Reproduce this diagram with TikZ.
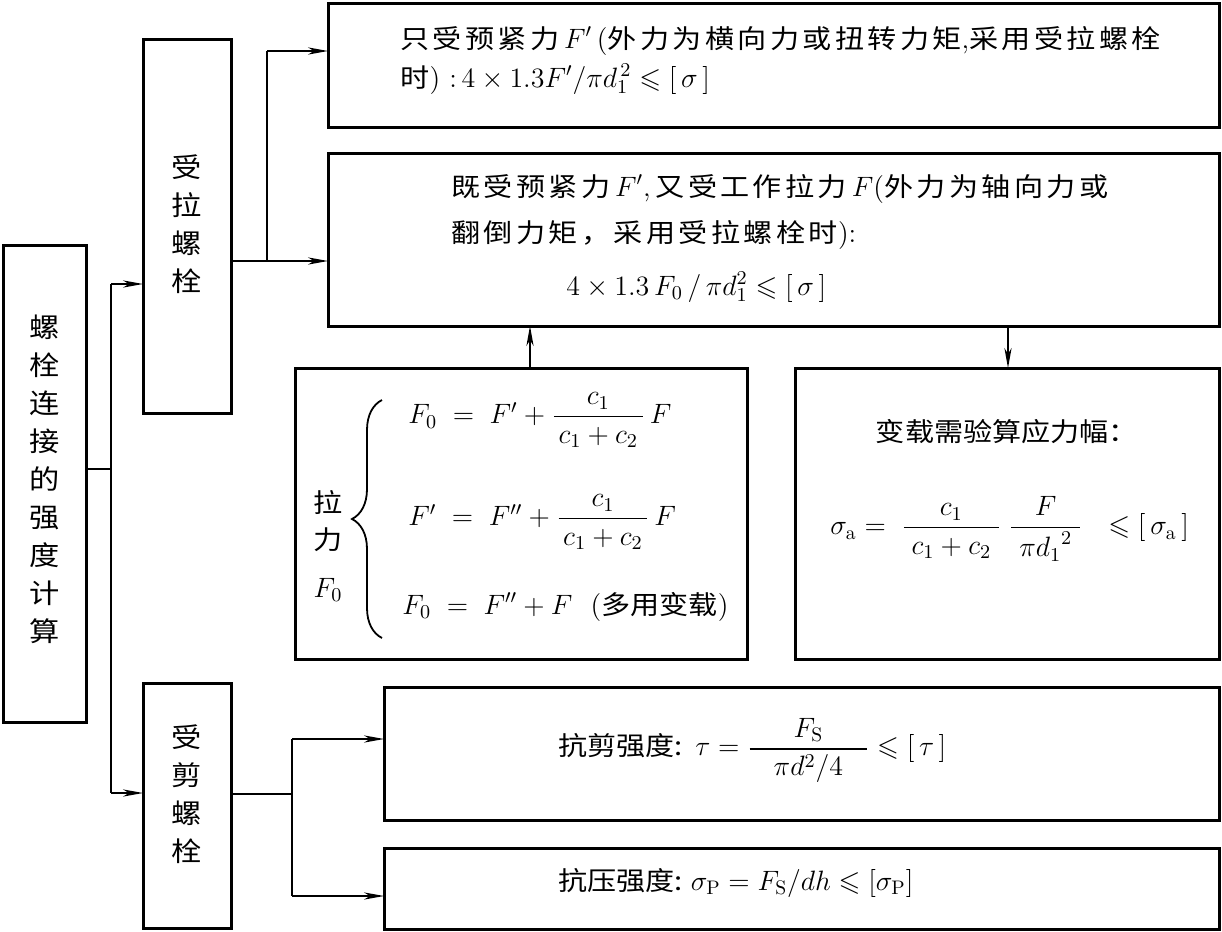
\documentclass[tikz,border=0pt]{standalone}
\usepackage{fix-cm}
\usepackage{amsmath,amssymb}
\usepackage{fontspec}
\usetikzlibrary{arrows.meta,decorations.pathreplacing}
\newfontfamily\cjkfont[FakeStretch=1.12]{Noto Sans CJK SC}
\newfontfamily\cjkspaced[FakeStretch=1.12,LetterSpace=13]{Noto Sans CJK SC}
\newcommand\zh[1]{{\cjkfont\fontsize{13pt}{16pt}\selectfont #1}}
\newcommand\zhs[1]{{\cjkspaced\fontsize{13pt}{16pt}\selectfont #1}}
\begin{document}
\begin{tikzpicture}[x=0.5pt,y=-0.5pt,
  box/.style={draw, line width=1.5pt, anchor=north west, inner sep=0pt, outer sep=0pt},
  conn/.style={line width=0.7pt},
  arr/.style={conn, -{Stealth[length=10pt,width=3.6pt,inset=3pt]}},
  txt/.style={inner sep=0pt, font=\fontsize{14pt}{17pt}\selectfont},
  zhtxt/.style={inner sep=0pt, font=\cjkfont\fontsize{13pt}{16pt}\selectfont},
  vlabel/.style={inner sep=0pt, align=center, font=\cjkfont\fontsize{13.5pt}{19pt}\selectfont}]
\useasboundingbox (0,0) rectangle (1222,932);

% boxes
\node[box, minimum width=41.5pt, minimum height=238.5pt] (main) at (3,245) {};
\node[box, minimum width=44pt, minimum height=187pt] (tens) at (143,39) {};
\node[box, minimum width=445.5pt, minimum height=62pt] (box1) at (328,3) {};
\node[box, minimum width=445.5pt, minimum height=86.5pt] (box2) at (328,153) {};
\node[box, minimum width=226pt, minimum height=145.5pt] (pull) at (295,368) {};
\node[box, minimum width=212pt, minimum height=145.5pt] (amp) at (795,368) {};
\node[box, minimum width=44pt, minimum height=122.5pt] (shr) at (143,683) {};
\node[box, minimum width=417.5pt, minimum height=66.5pt] (sbox) at (384,687) {};
\node[box, minimum width=417.5pt, minimum height=40.5pt] (cbox) at (384,848) {};

% vertical labels
\node[vlabel] (mainT) at (44.5,479) {螺\\栓\\连\\接\\的\\强\\度\\计\\算};
\node[vlabel] (tensT) at (187,224) {受\\拉\\螺\\栓};
\node[vlabel] (shrT) at (187,794) {受\\剪\\螺\\栓};

% connectors
\coordinate (j1) at (111,469);
\coordinate (j1t) at (111,284);
\coordinate (j1b) at (111,793);
\draw[conn] (main.east |- j1) -- (j1);
\draw[conn] (j1t) -- (j1b);
\draw[arr] (j1t) -- (tens.west |- j1t);
\draw[arr] (j1b) -- (shr.west |- j1b);

\coordinate (j2) at (267,261);
\coordinate (j2t) at (267,51);
\draw[conn] (tens.east |- j2) -- (j2) -- (j2t);
\draw[arr] (j2t) -- (box1.west |- j2t);
\draw[arr] (j2) -- (box2.west |- j2);

\coordinate (u) at (530,0);
\coordinate (d) at (1008,0);
\draw[arr] (pull.north -| u) -- (box2.south -| u);
\draw[arr] (box2.south -| d) -- (amp.north -| d);

\coordinate (j3) at (292,794);
\coordinate (j3t) at (292,739);
\coordinate (j3b) at (292,896);
\draw[conn] (shr.east |- j3) -- (j3);
\draw[conn] (j3t) -- (j3b);
\draw[arr] (j3t) -- (sbox.west |- j3t);
\draw[arr] (j3b) -- (cbox.west |- j3b);

% box 1 text
\node[txt, anchor=base west] (b1a) at (400,48) {\zhs{只受预紧力}\,$F'$\,(\zhs{外力为横向力或扭转力矩},\zhs{采用受拉螺栓}};
\node[txt, anchor=base west] (b1b) at (400,87) {\zhs{时}) :\,$4\times1.3F'/\pi d_1^{\,2}\leqslant[\,\sigma\,]$};

% box 2 text
\node[txt, anchor=base west] (b2a) at (451,196) {\zhs{既受预紧力}\,$F'$,\,\zhs{又受工作拉力}\,$F$(\zhs{外力为轴向力或}};
\node[txt, anchor=base west] (b2b) at (451,242) {\zhs{翻倒力矩，采用受拉螺栓时}):};
\node[txt, anchor=base west] (b2c) at (566,295) {$4\times1.3\,F_0\,/\,\pi d_1^2\leqslant[\,\sigma\,]$};

% pull box
\draw[line width=0.9pt, decorate, decoration={brace, amplitude=15pt, aspect=0.5}] (382,638) -- (382,400);
\node[zhtxt] (la) at (328,503) {拉};
\node[zhtxt] (lb) at (328,540) {力};
\node[txt] (lc) at (328,590) {$F_0$};
\node[txt, anchor=west] (e1) at (408,420) {$F_0 \;=\; F' + \dfrac{c_1}{\,c_1+c_2\,}\,F$};
\node[txt, anchor=west] (e2) at (408,522) {$F' \;=\; F'' + \dfrac{c_1}{\,c_1+c_2\,}\,F$};
\node[txt, anchor=base west] (e3) at (402,614) {$F_0 \;=\; F'' + F$\ \ (\zh{多用变载})};

% amplitude box
\node[zhtxt, anchor=base] (at) at (1007,441) {变载需验算应力幅：};
\node[txt, anchor=west] (af) at (830,529) {$\sigma_{\mathrm a} = \;\dfrac{c_1}{\;c_1+c_2\;}\;\dfrac{F}{\;\pi {d_1}^{2}\;}\ \ \leqslant[\,\sigma_{\mathrm a}\,]$};

% shear box
\node[txt, anchor=west] (st) at (558,750) {\zh{抗剪强度:}\;\,$\tau = \dfrac{F_{\mathrm S}}{\hspace{12pt}\pi d^2/4\hspace{12pt}}\leqslant[\,\tau\,]$};
\node[txt, anchor=base west] (ct) at (558,890) {\zh{抗压强度:}\;$\sigma_{\mathrm P} = F_{\mathrm S}/dh\leqslant[\sigma_{\mathrm P}]$};
\end{tikzpicture}
\end{document}
